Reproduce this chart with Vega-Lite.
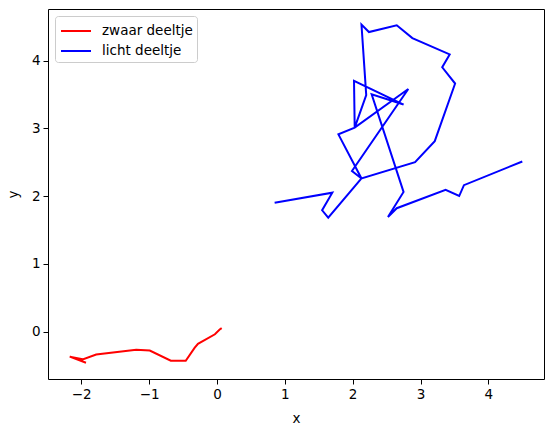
{
  "$schema": "https://vega.github.io/schema/vega-lite/v6.json",
  "width": 496,
  "height": 370,
  "autosize": {"type": "none"},
  "padding": {"left": 48, "top": 9, "right": 10, "bottom": 53},
  "background": "white",
  "config": {
    "font": "DejaVu Sans",
    "view": {"stroke": "black", "strokeWidth": 1},
    "axis": {
      "grid": false,
      "domain": false,
      "tickColor": "black",
      "tickSize": 5,
      "tickWidth": 1,
      "labelColor": "black",
      "labelFontSize": 13.5,
      "labelFont": "DejaVu Sans",
      "labelPadding": 3,
      "titleColor": "black",
      "titleFontSize": 13.5,
      "titleFont": "DejaVu Sans",
      "titleFontWeight": "normal"
    }
  },
  "data": {
    "values": [
      {"deeltje": "zwaar deeltje", "i": 0, "x": 0.07, "y": 0.05},
      {"deeltje": "zwaar deeltje", "i": 1, "x": 0.04, "y": 0.03},
      {"deeltje": "zwaar deeltje", "i": 2, "x": -0.03, "y": -0.04},
      {"deeltje": "zwaar deeltje", "i": 3, "x": -0.28, "y": -0.18},
      {"deeltje": "zwaar deeltje", "i": 4, "x": -0.33, "y": -0.24},
      {"deeltje": "zwaar deeltje", "i": 5, "x": -0.46, "y": -0.43},
      {"deeltje": "zwaar deeltje", "i": 6, "x": -0.68, "y": -0.43},
      {"deeltje": "zwaar deeltje", "i": 7, "x": -0.99, "y": -0.28},
      {"deeltje": "zwaar deeltje", "i": 8, "x": -1.19, "y": -0.27},
      {"deeltje": "zwaar deeltje", "i": 9, "x": -1.78, "y": -0.34},
      {"deeltje": "zwaar deeltje", "i": 10, "x": -1.98, "y": -0.41},
      {"deeltje": "zwaar deeltje", "i": 11, "x": -2.17, "y": -0.37},
      {"deeltje": "zwaar deeltje", "i": 12, "x": -1.93, "y": -0.46},
      {"deeltje": "licht deeltje", "i": 0, "x": 0.85, "y": 1.90},
      {"deeltje": "licht deeltje", "i": 1, "x": 1.70, "y": 2.05},
      {"deeltje": "licht deeltje", "i": 2, "x": 1.55, "y": 1.79},
      {"deeltje": "licht deeltje", "i": 3, "x": 1.64, "y": 1.68},
      {"deeltje": "licht deeltje", "i": 4, "x": 2.13, "y": 2.26},
      {"deeltje": "licht deeltje", "i": 5, "x": 1.79, "y": 2.91},
      {"deeltje": "licht deeltje", "i": 6, "x": 2.03, "y": 3.01},
      {"deeltje": "licht deeltje", "i": 7, "x": 2.82, "y": 3.58},
      {"deeltje": "licht deeltje", "i": 8, "x": 1.99, "y": 2.37},
      {"deeltje": "licht deeltje", "i": 9, "x": 2.13, "y": 2.26},
      {"deeltje": "licht deeltje", "i": 10, "x": 2.92, "y": 2.50},
      {"deeltje": "licht deeltje", "i": 11, "x": 3.21, "y": 2.81},
      {"deeltje": "licht deeltje", "i": 12, "x": 3.51, "y": 3.66},
      {"deeltje": "licht deeltje", "i": 13, "x": 3.32, "y": 3.90},
      {"deeltje": "licht deeltje", "i": 14, "x": 3.43, "y": 4.09},
      {"deeltje": "licht deeltje", "i": 15, "x": 2.88, "y": 4.33},
      {"deeltje": "licht deeltje", "i": 16, "x": 2.65, "y": 4.52},
      {"deeltje": "licht deeltje", "i": 17, "x": 2.24, "y": 4.42},
      {"deeltje": "licht deeltje", "i": 18, "x": 2.13, "y": 4.53},
      {"deeltje": "licht deeltje", "i": 19, "x": 2.20, "y": 3.49},
      {"deeltje": "licht deeltje", "i": 20, "x": 2.03, "y": 3.01},
      {"deeltje": "licht deeltje", "i": 21, "x": 2.02, "y": 3.70},
      {"deeltje": "licht deeltje", "i": 22, "x": 2.75, "y": 3.35},
      {"deeltje": "licht deeltje", "i": 23, "x": 2.28, "y": 3.50},
      {"deeltje": "licht deeltje", "i": 24, "x": 2.75, "y": 2.06},
      {"deeltje": "licht deeltje", "i": 25, "x": 2.52, "y": 1.69},
      {"deeltje": "licht deeltje", "i": 26, "x": 2.65, "y": 1.82},
      {"deeltje": "licht deeltje", "i": 27, "x": 3.37, "y": 2.09},
      {"deeltje": "licht deeltje", "i": 28, "x": 3.57, "y": 2.00},
      {"deeltje": "licht deeltje", "i": 29, "x": 3.64, "y": 2.16},
      {"deeltje": "licht deeltje", "i": 30, "x": 4.50, "y": 2.51}
    ]
  },
  "mark": {"type": "line", "strokeWidth": 2, "clip": true},
  "encoding": {
    "x": {
      "field": "x", "type": "quantitative", "title": "x",
      "scale": {"domain": [-2.49, 4.82], "nice": false, "zero": false},
      "axis": {"values": [-2, -1, 0, 1, 2, 3, 4], "format": "d", "titlePadding": 11}
    },
    "y": {
      "field": "y", "type": "quantitative", "title": "y",
      "scale": {"domain": [-0.70, 4.76], "nice": false, "zero": false},
      "axis": {"values": [0, 1, 2, 3, 4], "format": "d", "titlePadding": 11, "titleAngle": -90}
    },
    "color": {
      "field": "deeltje", "type": "nominal",
      "scale": {"domain": ["zwaar deeltje", "licht deeltje"], "range": ["red", "blue"]},
      "legend": {
        "title": null,
        "orient": "top-left",
        "offset": 7,
        "padding": 4,
        "fillColor": "white",
        "strokeColor": "#cccccc",
        "cornerRadius": 3,
        "labelFontSize": 13.5,
        "labelColor": "black",
        "labelFont": "DejaVu Sans",
        "symbolType": "M-0.9,0H2.1",
        "symbolSize": 400,
        "symbolStrokeWidth": 2,
        "symbolFillColor": "transparent",
        "labelOffset": 21,
        "labelExpr": "datum.label + '   '",
        "rowPadding": 2
      }
    },
    "detail": {"field": "deeltje"},
    "order": {"field": "i", "type": "quantitative"}
  }
}
